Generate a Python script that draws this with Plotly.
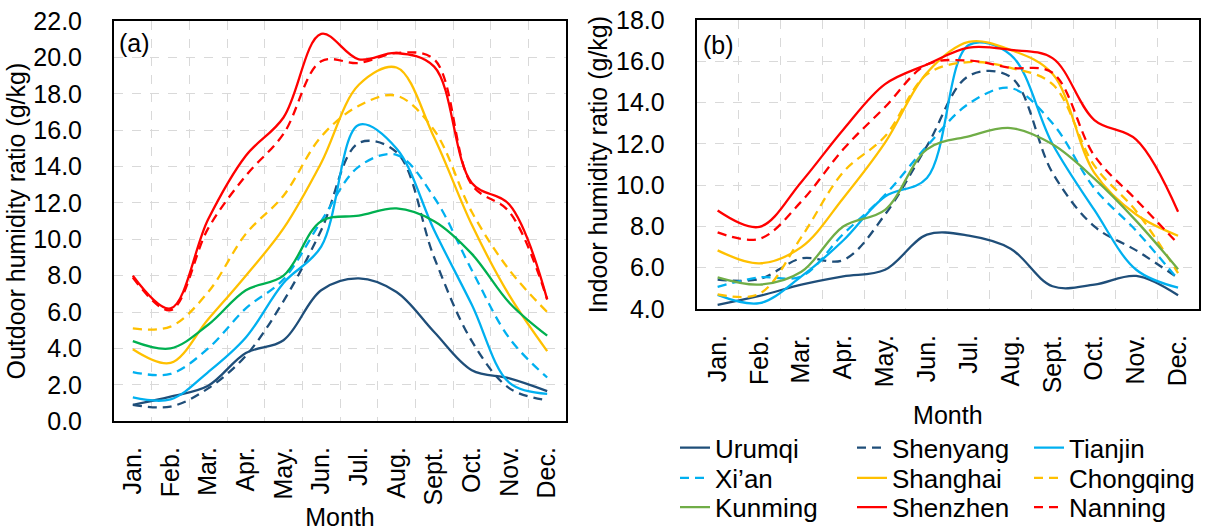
import plotly.graph_objects as go

# ---------------- data ----------------
months = ["Jan.", "Feb.", "Mar.", "Apr.", "May.", "Jun.", "Jul.", "Aug.", "Sept.", "Oct.", "Nov.", "Dec."]
cities = ["Urumqi", "Shenyang", "Tianjin", "Xi\u2019an", "Shanghai", "Chongqing", "Kunming", "Shenzhen", "Nanning"]

# (a) Outdoor humidity ratio (g/kg)
out_urumqi    = [0.9, 1.35, 1.95, 3.75, 4.45, 7.2, 7.85, 7.1, 4.9, 2.8, 2.35, 1.65]
out_shenyang  = [0.9, 0.8, 1.8, 3.6, 6.6, 10.5, 15.3, 14.8, 9.0, 4.4, 1.8, 1.15]
out_tianjin   = [1.3, 1.2, 2.7, 4.6, 7.6, 9.6, 16.3, 15.0, 10.5, 6.4, 2.1, 1.5]
out_xian      = [2.7, 2.6, 4.0, 6.2, 7.8, 11.0, 14.0, 14.65, 12.3, 8.3, 4.55, 2.4]
out_shanghai  = [3.95, 3.2, 5.6, 8.0, 10.6, 14.2, 18.5, 19.45, 15.6, 10.8, 6.9, 3.85]
out_chongqing = [5.1, 5.2, 7.1, 10.3, 12.4, 15.65, 17.35, 17.9, 16.0, 11.5, 8.3, 6.0]
out_kunming   = [4.4, 4.0, 5.3, 7.2, 8.0, 11.0, 11.3, 11.7, 11.0, 9.2, 6.5, 4.7]
out_shenzhen  = [8.0, 6.2, 11.1, 14.6, 16.7, 21.3, 19.9, 20.25, 19.5, 13.1, 11.9, 6.7]
out_nanning   = [7.9, 6.1, 10.6, 13.5, 15.8, 19.8, 19.7, 20.25, 19.9, 13.0, 11.5, 6.7]

# (b) Indoor humidity ratio (g/kg)
in_urumqi    = [4.2, 4.63, 5.18, 5.58, 5.9, 7.6, 7.55, 6.92, 5.1, 5.18, 5.6, 4.66]
in_shenyang  = [5.42, 5.45, 6.45, 6.37, 8.58, 11.9, 15.3, 15.25, 10.6, 8.0, 6.84, 5.5]
in_tianjin   = [4.68, 4.28, 5.58, 7.32, 9.45, 10.35, 16.8, 16.32, 12.0, 8.8, 5.9, 5.03]
in_xian      = [5.07, 5.53, 5.58, 7.63, 9.53, 11.9, 13.95, 14.71, 13.0, 9.85, 7.79, 5.42]
in_shanghai  = [6.84, 6.21, 7.0, 9.37, 12.06, 15.45, 16.95, 16.56, 15.4, 10.6, 8.58, 7.55]
in_chongqing = [4.71, 4.74, 7.48, 10.63, 12.37, 15.37, 15.97, 15.69, 14.9, 10.95, 8.74, 5.74]
in_kunming   = [5.53, 5.18, 5.8, 8.0, 8.8, 11.74, 12.37, 12.77, 11.98, 10.32, 8.27, 5.93]
in_shenzhen  = [8.77, 7.98, 10.16, 12.69, 14.9, 15.85, 16.67, 16.56, 16.16, 13.16, 12.21, 8.71]
in_nanning   = [7.71, 7.4, 9.21, 11.74, 13.79, 15.85, 16.04, 15.69, 15.45, 11.43, 9.29, 7.16]

y_ticks_a = [0, 2, 4, 6, 8, 10, 12, 14, 16, 18, 20, 22]
y_ticks_b = [4, 6, 8, 10, 12, 14, 16, 18]

outdoor = [out_urumqi, out_shenyang, out_tianjin, out_xian, out_shanghai,
           out_chongqing, out_kunming, out_shenzhen, out_nanning]
indoor = [in_urumqi, in_shenyang, in_tianjin, in_xian, in_shanghai,
          in_chongqing, in_kunming, in_shenzhen, in_nanning]

# ---------------- styles ----------------
NAVY, LBLUE, YEL, RED = "#1F4E79", "#00B0F0", "#FFC000", "#FF0000"
colors_a = [NAVY, NAVY, LBLUE, LBLUE, YEL, YEL, "#00B050", RED, RED]
colors_b = [NAVY, NAVY, LBLUE, LBLUE, YEL, YEL, "#70AD47", RED, RED]
dashes = ["solid", "9px,6px", "solid", "9px,6px", "solid", "9px,6px", "solid", "solid", "9px,6px"]
legend_of = ["legend", "legend", "legend", "legend2", "legend2", "legend2", "legend3", "legend3", "legend3"]

FONT = "Arial, Liberation Sans, sans-serif"
FS = 25
xpos = list(range(len(months)))

fig = go.Figure()
for i, name in enumerate(cities):
    fig.add_trace(go.Scatter(
        x=xpos, y=outdoor[i], name=name, mode="lines",
        line=dict(color=colors_a[i], width=2.3, dash=dashes[i], shape="spline", smoothing=1.0),
        showlegend=False, xaxis="x", yaxis="y", hoverinfo="skip"))
for i, name in enumerate(cities):
    fig.add_trace(go.Scatter(
        x=xpos, y=indoor[i], name=name, mode="lines",
        line=dict(color=colors_b[i], width=2.3, dash=dashes[i], shape="spline", smoothing=1.0),
        showlegend=True, legend=legend_of[i], xaxis="x2", yaxis="y2", hoverinfo="skip"))

W, H = 1208, 531
def px_x(p):
    return p / W
def px_y(p):
    return (H - p) / H

grid = dict(gridcolor="#d9d9d9", griddash="dash", gridwidth=1)
frame = dict(showline=True, mirror=True, linecolor="black", linewidth=2, zeroline=False)
tickf = dict(family=FONT, size=FS, color="black")
minor_x = dict(tickvals=[k + 0.5 for k in range(len(months) - 1)], showgrid=True, ticks="", **grid)

xcommon = dict(range=[-0.5, len(months) - 0.5], tickmode="array", tickvals=xpos, ticktext=months,
               tickangle=-90, showgrid=False, ticks="", tickfont=tickf, minor=minor_x,
               ticklabelstandoff=14, automargin=False, **frame)

fig.update_layout(
    width=W, height=H,
    margin=dict(l=0, r=0, t=0, b=0),
    paper_bgcolor="white", plot_bgcolor="white",
    font=dict(family=FONT, size=FS, color="black"),
    xaxis=dict(domain=[px_x(114), px_x(566)], anchor="y",
               title=dict(text="Month", font=tickf, standoff=13), **xcommon),
    yaxis=dict(domain=[px_y(431.7), px_y(21.7)], anchor="x", range=[0, 22],
               tickmode="array", tickvals=y_ticks_a, tickformat=".1f", ticks="",
               tickfont=tickf, showgrid=True, ticklabelstandoff=25, automargin=False,
               title=dict(text="Outdoor humidity ratio (g/kg)", font=tickf, standoff=1),
               **grid, **frame),
    xaxis2=dict(domain=[px_x(696.7), px_x(1199)], anchor="y2",
                title=dict(text="Month", font=tickf, standoff=14), **xcommon),
    yaxis2=dict(domain=[px_y(316.7), px_y(20.7)], anchor="x2", range=[4, 18],
                tickmode="array", tickvals=y_ticks_b, tickformat=".1f", ticks="",
                tickfont=tickf, showgrid=True, ticklabelstandoff=25, automargin=False,
                title=dict(text="Indoor humidity ratio (g/kg)", font=tickf, standoff=1),
                **grid, **frame),
    annotations=[
        dict(text="(a)", x=px_x(117), y=px_y(44), xref="paper", yref="paper",
             xanchor="left", yanchor="middle",
             showarrow=False, font=dict(family=FONT, size=FS, color="black")),
        dict(text="(b)", x=px_x(701), y=px_y(46), xref="paper", yref="paper",
             xanchor="left", yanchor="middle",
             showarrow=False, font=dict(family=FONT, size=FS, color="black")),
    ],
)

leg_common = dict(orientation="h", xanchor="left", yanchor="middle", x=px_x(675),
                  entrywidth=132, entrywidthmode="pixels", bgcolor="rgba(0,0,0,0)",
                  font=dict(family=FONT, size=26, color="black"), itemclick=False)
fig.update_layout(
    legend=dict(y=px_y(459), **leg_common),
    legend2=dict(y=px_y(490), **leg_common),
    legend3=dict(y=px_y(520), **leg_common),
)

fig.write_html("out.html")
